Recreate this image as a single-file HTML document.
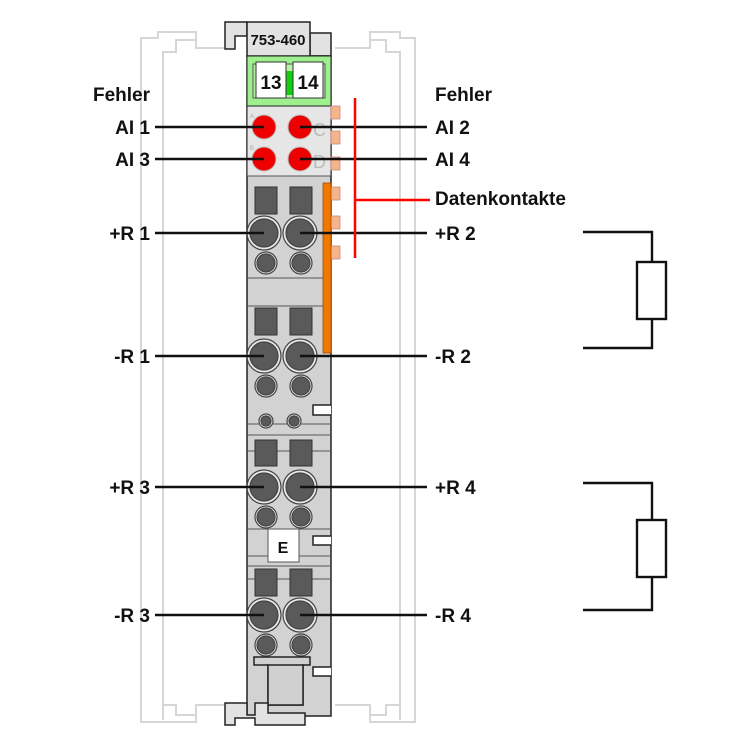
<!DOCTYPE html>
<html><head><meta charset="utf-8"><style>
html,body{margin:0;padding:0;background:#fff}
svg{display:block}
text{font-family:"Liberation Sans",sans-serif;font-weight:bold;font-size:19px;fill:#111}
</style></head><body>
<svg width="750" height="750" viewBox="0 0 750 750" xmlns="http://www.w3.org/2000/svg">
<!-- rails -->
<g fill="none" stroke="#d6d6d6" stroke-width="2">
<path d="M141 720 V38 H158 V32 H196 V48 H230"/>
<path d="M163 720 V52 H176 V40 H196"/>
<path d="M415 720 V38 H400 V32 H370 V48 H335"/>
<path d="M400 720 V52 H386 V40 H370"/>
<path d="M141 700 V722 H196 V705 H230"/>
<path d="M163 705 H176 V715 H196"/>
<path d="M415 700 V722 H370 V705 H335"/>
<path d="M400 705 H386 V715 H370"/>
</g>
<!-- top latch -->
<path d="M225 22 H247 V36 H235 V49 H225 Z" fill="#e2e2e2" stroke="#222" stroke-width="1.5"/>
<path d="M310 33 H331 V56 H310 Z" fill="#e2e2e2" stroke="#222" stroke-width="1.5"/>
<!-- body -->
<rect x="247" y="56" width="84" height="660" fill="#d2d2d2" stroke="#222" stroke-width="1.5"/>
<rect x="247" y="22" width="63" height="34" fill="#e2e2e2" stroke="#222" stroke-width="1.5"/>
<text x="278" y="45" text-anchor="middle" style="font-size:15px">753-460</text>
<rect x="247" y="56" width="84" height="50" fill="#9ef08e" stroke="#222" stroke-width="1"/>
<rect x="253" y="64" width="72" height="34" fill="#b8f0a8" stroke="#555" stroke-width="1"/>
<rect x="285" y="71" width="9" height="24" fill="#10d010"/>
<rect x="256" y="62" width="30" height="36" fill="#fff" stroke="#333" stroke-width="1"/>
<rect x="293" y="62" width="30" height="36" fill="#fff" stroke="#333" stroke-width="1"/>
<text x="271" y="89" text-anchor="middle" style="font-size:19px">13</text>
<text x="308" y="89" text-anchor="middle" style="font-size:19px">14</text>
<rect x="247" y="106" width="84" height="70" fill="#e6e6e6" stroke="#222" stroke-width="1"/>
<text x="250" y="118" style="font-size:6px;font-weight:normal;fill:#aaa">A</text>
<text x="250" y="150" style="font-size:6px;font-weight:normal;fill:#aaa">B</text>
<text x="313" y="136" style="font-size:18px;font-weight:normal;fill:#bbb">C</text>
<text x="313" y="168" style="font-size:18px;font-weight:normal;fill:#bbb">D</text>
<g fill="#ee0000" stroke="#bbb" stroke-width="1">
<circle cx="264" cy="127" r="12"/><circle cx="300" cy="127" r="12"/>
<circle cx="264" cy="159" r="12"/><circle cx="300" cy="159" r="12"/>
</g>
<!-- peach tabs -->
<g fill="#f5b48a" stroke="#c88" stroke-width="0.8">
<rect x="331" y="106" width="9" height="13"/><rect x="331" y="131" width="9" height="13"/>
<rect x="331" y="157" width="9" height="13"/><rect x="331" y="187" width="9" height="13"/>
<rect x="331" y="216" width="9" height="13"/><rect x="331" y="246" width="9" height="13"/>
</g>
<rect x="323" y="183" width="8" height="170" fill="#f07800" stroke="#a04800" stroke-width="0.8"/>
<!-- dividers -->
<g stroke="#555" stroke-width="1">
<line x1="247" y1="176" x2="331" y2="176"/>
<line x1="247" y1="278" x2="323" y2="278"/>
<line x1="247" y1="306" x2="323" y2="306"/>
<line x1="247" y1="424" x2="331" y2="424"/>
<line x1="247" y1="435" x2="331" y2="435"/>
<line x1="247" y1="451" x2="331" y2="451"/>
<line x1="247" y1="529" x2="331" y2="529"/>
<line x1="247" y1="556" x2="331" y2="556"/>
<line x1="247" y1="566" x2="331" y2="566"/>
<line x1="247" y1="579" x2="331" y2="579"/>
</g>
<!-- notches -->
<path d="M331 405 H313 V415 H331" fill="#fff" stroke="#222" stroke-width="1.5"/>
<path d="M331 536 H313 V545 H331" fill="#fff" stroke="#222" stroke-width="1.5"/>
<path d="M331 667 H313 V676 H331" fill="#fff" stroke="#222" stroke-width="1.5"/>
<!-- terminal blocks -->
<g fill="#5a5a5a" stroke="#333" stroke-width="1">
<rect x="255" y="187" width="22" height="27"/><rect x="290" y="187" width="22" height="27"/>
<rect x="255" y="308" width="22" height="27"/><rect x="290" y="308" width="22" height="27"/>
<rect x="255" y="440" width="22" height="26"/><rect x="290" y="440" width="22" height="26"/>
<rect x="255" y="569" width="22" height="27"/><rect x="290" y="569" width="22" height="27"/>
</g>
<g fill="#5a5a5a" stroke="#444" stroke-width="1.2">
<g id="b"><circle cx="264" cy="233" r="17" fill="#e8e8e8"/><circle cx="264" cy="233" r="14"/>
<circle cx="300" cy="233" r="17" fill="#e8e8e8"/><circle cx="300" cy="233" r="14"/>
<circle cx="266" cy="263" r="11" fill="#e8e8e8"/><circle cx="266" cy="263" r="9"/>
<circle cx="301" cy="263" r="11" fill="#e8e8e8"/><circle cx="301" cy="263" r="9"/></g>
<use href="#b" y="123"/>
<use href="#b" y="254"/>
<use href="#b" y="382"/>
<circle cx="266" cy="421" r="7" fill="#e8e8e8"/><circle cx="266" cy="421" r="5"/>
<circle cx="294" cy="421" r="7" fill="#e8e8e8"/><circle cx="294" cy="421" r="5"/>
</g>
<rect x="268" y="529" width="31" height="33" fill="#fff" stroke="#555" stroke-width="1"/>
<text x="283" y="553" text-anchor="middle" style="font-size:16px">E</text>
<!-- bottom latch -->
<path d="M254 657 H310 V665 H303 V705 H268 V665 H254 Z" fill="#d0d0d0" stroke="#222" stroke-width="1.5"/>
<rect x="268" y="665" width="35" height="40" fill="#d0d0d0" stroke="#222" stroke-width="1.5"/>
<path d="M225 703 H247 V715 H255 V703 H268 V713 H305 V725 H255 V718 H235 V725 H225 Z" fill="#e2e2e2" stroke="#222" stroke-width="1.5"/>
<!-- leader lines -->
<g stroke="#111" stroke-width="2.4">
<line x1="155" y1="127" x2="264" y2="127"/><line x1="300" y1="127" x2="427" y2="127"/>
<line x1="155" y1="159" x2="264" y2="159"/><line x1="300" y1="159" x2="427" y2="159"/>
<line x1="155" y1="233" x2="264" y2="233"/><line x1="300" y1="233" x2="427" y2="233"/>
<line x1="155" y1="356" x2="264" y2="356"/><line x1="300" y1="356" x2="427" y2="356"/>
<line x1="155" y1="487" x2="264" y2="487"/><line x1="300" y1="487" x2="427" y2="487"/>
<line x1="155" y1="615" x2="264" y2="615"/><line x1="300" y1="615" x2="427" y2="615"/>
</g>
<g stroke="#f00" stroke-width="2.5"><line x1="355" y1="98" x2="355" y2="258"/><line x1="355" y1="200" x2="430" y2="200"/></g>
<!-- resistors -->
<g fill="#fff" stroke="#111" stroke-width="2.4">
<path d="M583 232 H652 V262 M652 319 V348 H583" fill="none"/>
<rect x="637" y="262" width="29" height="57"/>
<path d="M583 483 H652 V520 M652 577 V610 H583" fill="none"/>
<rect x="637" y="520" width="29" height="57"/>
</g>
<!-- labels -->
<text x="150" y="101" text-anchor="end">Fehler</text>
<text x="150" y="134" text-anchor="end">AI 1</text>
<text x="150" y="166" text-anchor="end">AI 3</text>
<text x="150" y="240" text-anchor="end">+R 1</text>
<text x="150" y="363" text-anchor="end">-R 1</text>
<text x="150" y="494" text-anchor="end">+R 3</text>
<text x="150" y="622" text-anchor="end">-R 3</text>
<text x="435" y="101">Fehler</text>
<text x="435" y="134">AI 2</text>
<text x="435" y="166">AI 4</text>
<text x="435" y="205">Datenkontakte</text>
<text x="435" y="240">+R 2</text>
<text x="435" y="363">-R 2</text>
<text x="435" y="494">+R 4</text>
<text x="435" y="622">-R 4</text>
</svg>
</body></html>
